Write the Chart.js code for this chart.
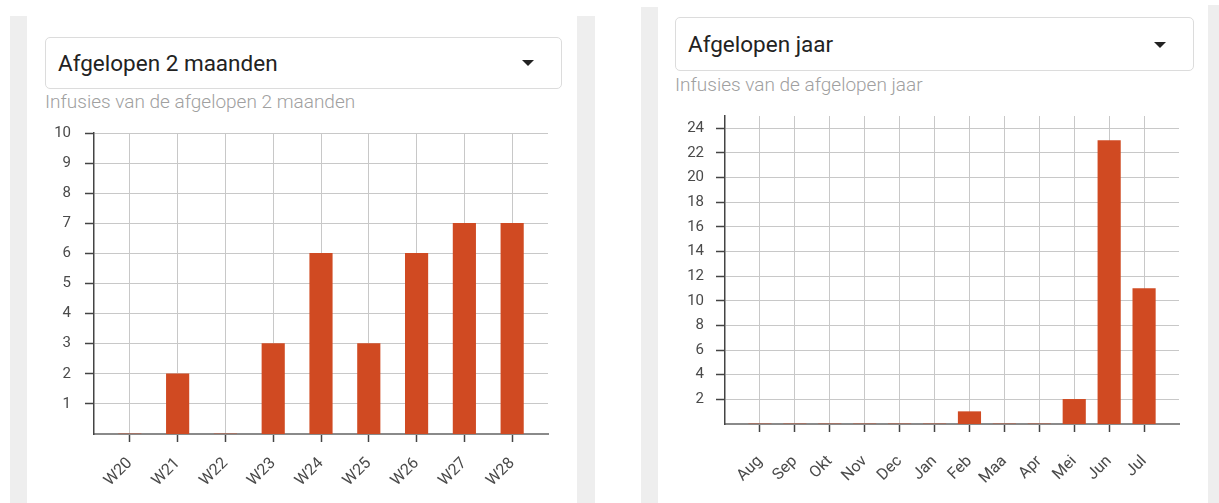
<!DOCTYPE html>
<html>
<head>
<meta charset="utf-8">
<script src="https://cdn.jsdelivr.net/npm/chart.js@4.4.1/dist/chart.umd.min.js"></script>
<style>
  html, body { margin: 0; padding: 0; background: #ffffff; }
  body { width: 1219px; height: 503px; position: relative; overflow: hidden; font-family: Roboto, "Noto Sans", sans-serif; }
  .strip { position: absolute; background: #eeeeee; }
  .select { position: absolute; border: 1px solid #dcdcdc; border-radius: 5px; box-sizing: border-box; background: #fff; }
  .select .txt { position: absolute; left: 12px; color: #222; font-size: 22.5px; line-height: 1; }
  .select .arrow { position: absolute; width: 0; height: 0; border-left: 6px solid transparent; border-right: 6px solid transparent; border-top: 6px solid #222; }
  .sub { position: absolute; color: #a0a0a0; font-size: 19px; font-weight: 300; white-space: nowrap; }
  .chartbox { position: absolute; }
</style>
</head>
<body>
  <div class="strip" style="left:10px; top:16px; width:17px; height:487px;"></div>
  <div class="strip" style="left:577px; top:16px; width:18px; height:487px;"></div>
  <div class="strip" style="left:641px; top:7px; width:17px; height:496px;"></div>
  <div class="strip" style="left:1208px; top:5px; width:11px; height:498px;"></div>

  <div class="select" style="left:45px; top:37px; width:517px; height:52px;">
    <div class="txt" style="top:14px;">Afgelopen 2 maanden</div>
    <div class="arrow" style="left:476px; top:22px;"></div>
  </div>
  <div class="sub" style="left:45px; top:90px;">Infusies van de afgelopen 2 maanden</div>

  <div class="select" style="left:675px; top:17px; width:519px; height:54px;">
    <div class="txt" style="top:15px;">Afgelopen jaar</div>
    <div class="arrow" style="left:478px; top:24px;"></div>
  </div>
  <div class="sub" style="left:675px; top:73px;">Infusies van de afgelopen jaar</div>

  <div class="chartbox" style="left:40px; top:110px; width:520px; height:390px;"><canvas id="c1"></canvas></div>
  <div class="chartbox" style="left:660px; top:95px; width:540px; height:405px;"><canvas id="c2"></canvas></div>

<script>
// ---- data ----
const weekLabels = ['W20','W21','W22','W23','W24','W25','W26','W27','W28'];
const weekValues = [0, 2, 0, 3, 6, 3, 6, 7, 7];
const weekYTicks = [1,2,3,4,5,6,7,8,9,10];

const monthLabels = ['Aug','Sep','Okt','Nov','Dec','Jan','Feb','Maa','Apr','Mei','Jun','Jul'];
const monthValues = [0, 0, 0, 0, 0, 0, 1, 0, 0, 2, 23, 11];
const monthYTicks = [2,4,6,8,10,12,14,16,18,20,22,24];

// ---- styles ----
const BAR = '#d04a22';
const GRID = '#c8c8c8';
const TICKC = '#444444';
const LABELC = '#4a4a4a';

function makeChart(id, labels, values, yTicks, cfg) {
  const ctx = document.getElementById(id);
  return new Chart(ctx, {
    type: 'bar',
    data: {
      datasets: [{
        data: values.map((v, i) => ({ x: i, y: v })),
        backgroundColor: BAR,
        borderWidth: 0,
        barThickness: 22.5
      }]
    },
    options: {
      responsive: true,
      maintainAspectRatio: false,
      animation: false,
      events: [],
      layout: { padding: cfg.padding },
      plugins: { legend: { display: false }, tooltip: { enabled: false } },
      scales: {
        x: {
          type: 'linear',
          offset: false,
          min: -cfg.xPad,
          max: labels.length - 1 + cfg.xPad,
          afterBuildTicks: s => { s.ticks = labels.map((_, i) => ({ value: i })); },
          afterFit: s => { s.height = cfg.xHeight; },
          grid: { offset: false, color: GRID, lineWidth: 1, drawTicks: true, tickLength: 8, tickColor: TICKC, tickWidth: 1.5 },
          border: { display: true, color: '#8a8a8a', width: 2 },
          ticks: {
            autoSkip: false,
            minRotation: 45, maxRotation: 45,
            padding: cfg.xLabelPad,
            color: LABELC,
            font: { family: 'Roboto', size: 16 },
            callback: v => labels[v]
          }
        },
        y: {
          min: 0,
          max: cfg.yMax,
          afterBuildTicks: s => { s.ticks = yTicks.map(v => ({ value: v })); },
          afterFit: s => { s.width = cfg.yWidth; },
          grid: { color: GRID, lineWidth: 1, drawTicks: true, tickLength: 9, tickColor: TICKC, tickWidth: 1.5 },
          border: { display: true, color: '#444444', width: 1.5 },
          ticks: {
            padding: cfg.yLabelPad,
            color: LABELC,
            font: { family: 'Roboto', size: 15 },
            callback: v => String(v)
          }
        }
      }
    }
  });
}

makeChart('c1', weekLabels, weekValues, weekYTicks, {
  padding: { top: 19, right: 12, left: 0, bottom: 0 },
  xPad: 0.75, yMax: 10, yWidth: 54, xHeight: 66, xLabelPad: 12, yLabelPad: 14
});
makeChart('c2', monthLabels, monthValues, monthYTicks, {
  padding: { top: 17, right: 21, left: 0, bottom: 0 },
  xPad: 1.0, yMax: 25, yWidth: 65, xHeight: 76, xLabelPad: 20, yLabelPad: 12
});
</script>
</body>
</html>
